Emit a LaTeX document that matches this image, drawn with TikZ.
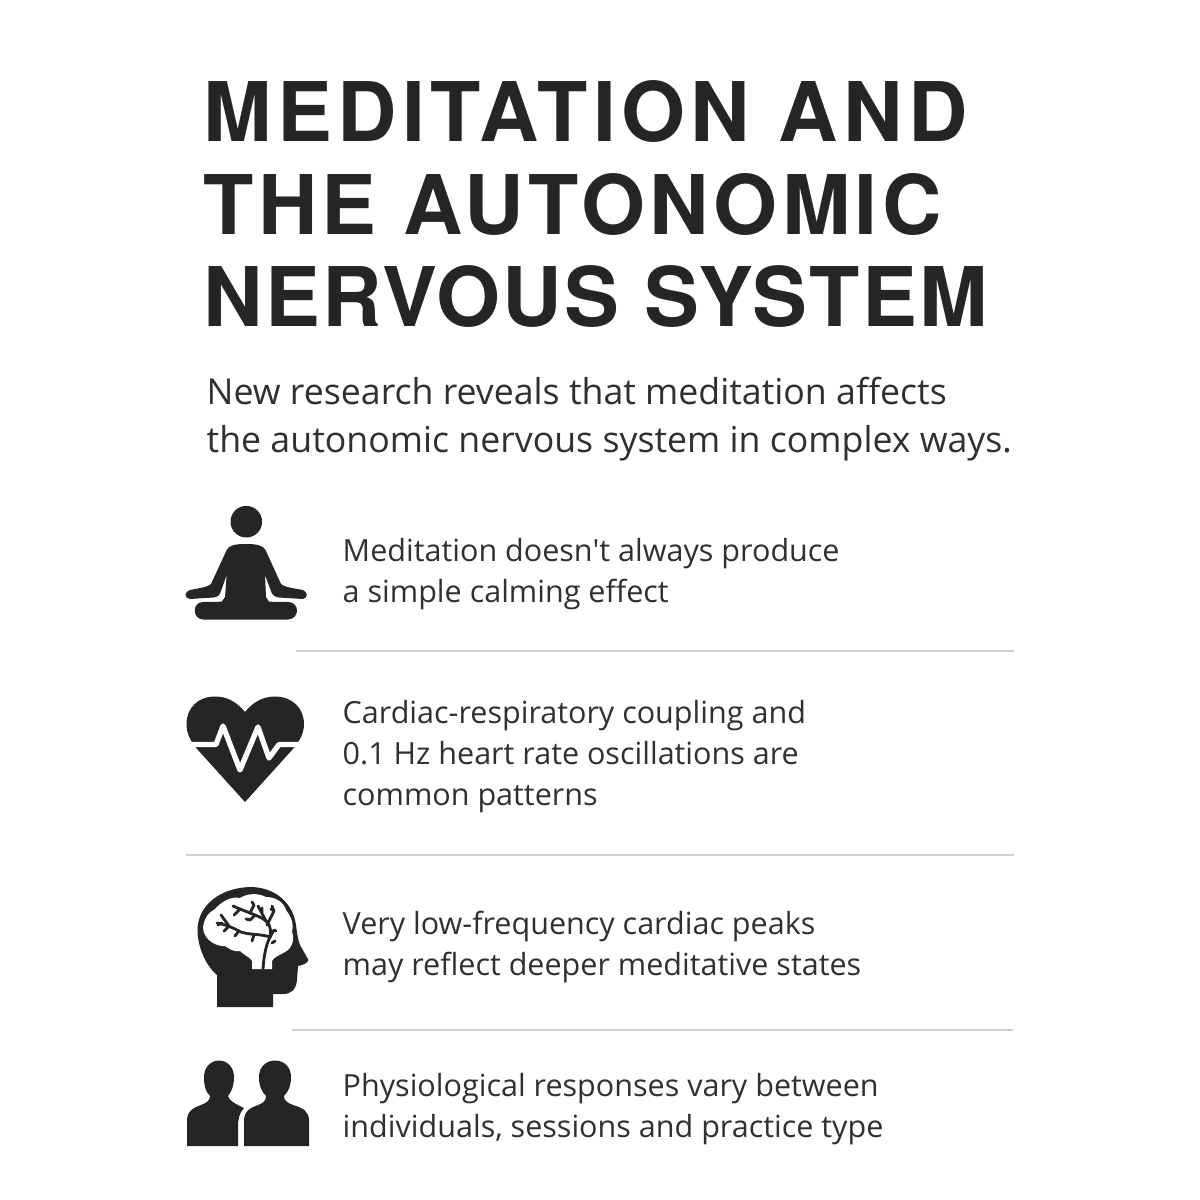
\documentclass[tikz,border=0pt]{standalone}
\usepackage{fontspec}
\setmainfont{Open Sans}
\newfontfamily\titlefont{TeX Gyre Heros}
\usepackage{tikz}
\definecolor{inkdark}{HTML}{252528}
\definecolor{rulegray}{HTML}{D0D0D0}
\tikzset{
  titletext/.style={anchor=north west, inner sep=0pt, align=left, text=inkdark, font=\titlefont\bfseries\fontsize{23.4}{26.3}\selectfont},
  subtext/.style={anchor=north west, inner sep=0pt, align=left, text=inkdark!95, font=\fontsize{10.15}{13.66}\selectfont},
  itemtext/.style={anchor=north west, inner sep=0pt, align=left, text=inkdark!95, font=\fontsize{8.68}{11.67}\selectfont},
  icon/.style={fill=inkdark, draw=none},
  sepline/.style={draw=rulegray, line width=0.3pt},
  cutline/.style={draw=white, line width=1.5pt, line join=round},
  twig/.style={draw=inkdark, line width=0.8pt, line cap=round, line join=round}
}
\begin{document}
\begin{tikzpicture}[x=0.01cm, y=-0.01cm]
\useasboundingbox (0,0) rectangle (1200,1200);
% heading
\node[titletext] (title) at (203,80) {\addfontfeature{LetterSpace=6.5}MEDITATION AND\\\addfontfeature{LetterSpace=5.1}THE AUTONOMIC\\\addfontfeature{LetterSpace=2.8}NERVOUS SYSTEM};
\node[subtext] (intro) at (206,376) {New research reveals that meditation affects\\the autonomic nervous system in complex ways.};
% four rows of text
\node[itemtext] (calm) at (342,538) {Meditation doesn\textquotesingle t always produce\\a simple calming effect};
\node[itemtext] (cardiac) at (342,700) {Cardiac-respiratory coupling and\\0.1 Hz heart rate oscillations are\\common patterns};
\node[itemtext] (peaks) at (342,910) {Very low-frequency cardiac peaks\\may reflect deeper meditative states};
\node[itemtext] (people) at (342,1073) {Physiological responses vary between\\individuals, sessions and practice type};
% separators
\draw[sepline] (296,651) -- (1014,651);
\draw[sepline] (186,855) -- (1014,855);
\draw[sepline] (292,1030) -- (1013,1030);
% sitting figure
\fill[icon] (246.3,521.7) circle (15.8);
\fill[icon] (246,544) .. controls (236,544) and (229,545) .. (226.7,550)
  -- (211,584) .. controls (208,587) and (200,588) .. (190,590)
  .. controls (184,592) and (184,598) .. (190,599)
  -- (213,597.5) .. controls (218,597) and (220,595) .. (221,591)
  -- (226.7,575) -- (225,597) -- (221.7,601.7) -- (203,602)
  .. controls (192,602) and (192,619) .. (203,619.5)
  -- (288,619.5) .. controls (300,619) and (300,602) .. (288,602)
  -- (269,601.7) -- (266,597) -- (265,575) -- (271,591)
  .. controls (272,595) and (275,597) .. (279,597.5)
  -- (303,599) .. controls (308,598) and (308,592) .. (303,590)
  .. controls (292,588) and (284,587) .. (281,584)
  -- (265.5,550) .. controls (263,545) and (256,544) .. (246,544) -- cycle;
% heart
\fill[icon] (245,712) .. controls (236,701) and (226,696.5) .. (215,696.5)
  .. controls (198,696.5) and (186.5,708) .. (186.5,724)
  .. controls (186.5,734) and (191,742) .. (198,750)
  -- (245,802) -- (292,750)
  .. controls (299,742) and (304,734) .. (304,724)
  .. controls (304,708) and (292,696.5) .. (275,696.5)
  .. controls (264,696.5) and (254,701) .. (245,712) -- cycle;
\draw[cutline] (184,744.5) -- (216,744.5) -- (223,726) -- (240,770) -- (258,727) -- (269,758) -- (279,744.5) -- (306,744.5);
% head with brain
\fill[icon] (217,1007) -- (217,975) .. controls (205,965) and (197,945) .. (197.5,928)
  .. controls (199,905) and (220,888) .. (250,887)
  .. controls (275,887) and (293,903) .. (296,925)
  .. controls (297,933) and (298,940) .. (300,945)
  -- (308.5,960) .. controls (307,964) and (302,965) .. (298,966)
  -- (297,980) .. controls (296,990) and (291,994) .. (283,994)
  -- (273,994) -- (273,1007) -- cycle;
\fill[white] (203,928) .. controls (204,918) and (209,912) .. (215,909)
  .. controls (222,901) and (232,896) .. (240,898)
  .. controls (248,893) and (258,893) .. (266,897)
  .. controls (275,897) and (284,902) .. (286,910)
  .. controls (292,918) and (294,925) .. (292,932)
  .. controls (295,940) and (292,948) .. (285,952)
  .. controls (278,956) and (274,957) .. (272,961)
  -- (272,969) -- (252,969) -- (252,961)
  .. controls (250,957) and (245,956) .. (240,951)
  .. controls (234,952) and (229,949) .. (225,946)
  .. controls (218,947) and (204,941) .. (203,928) -- cycle;
\draw[twig] (263,969) .. controls (264,955) and (266,945) .. (270,937)
  .. controls (272,925) and (268,920) .. (255,915) -- (240,909);
\draw[twig] (270,937) .. controls (262,934) and (250,935) .. (241,932) .. controls (235,929) and (228,925) .. (217,923);
\draw[twig] (266,921) -- (258,906) (262,913) -- (262,908) (267,925) -- (274,911) -- (271,909);
\draw[twig] (274,911) -- (272,906) (270,937) -- (274,930) -- (276,931) (272,943) -- (275,941);
\draw[twig] (255,915) -- (250,920) -- (246,919) (240,909) -- (233,906) (240,909) -- (234,915) (250,913) -- (254,905) -- (252,902);
\draw[twig] (229,926) -- (224,931) (229,926) -- (221,915) (222,923) -- (218,925) (254,935) -- (252,941) (238,932) -- (235,936);
% two people
\fill[icon] (187,1146) -- (187,1121) .. controls (187,1111) and (193,1108) .. (201,1105)
  .. controls (206,1103) and (210,1101) .. (210,1096)
  .. controls (205,1091) and (204,1085) .. (204,1077)
  .. controls (204,1067) and (211,1060.5) .. (219,1060.5)
  .. controls (227,1060.5) and (234,1067) .. (234,1077)
  .. controls (234,1085) and (232,1091) .. (228,1096)
  .. controls (229,1101) and (236,1104) .. (244,1108)
  .. controls (239,1113) and (238,1120) .. (238,1127) -- (238,1146) -- cycle;
\fill[icon] (244,1146) -- (244,1121) .. controls (244,1111) and (250,1108) .. (258,1105)
  .. controls (263,1103) and (266,1101) .. (266,1096)
  .. controls (261,1091) and (259,1085) .. (259,1077)
  .. controls (259,1067) and (266,1060.5) .. (275,1060.5)
  .. controls (284,1060.5) and (291,1067) .. (291,1077)
  .. controls (291,1085) and (289,1091) .. (284,1096)
  .. controls (284,1101) and (288,1103) .. (293,1105)
  .. controls (303,1108) and (309,1111) .. (309,1121) -- (309,1146) -- cycle;
\end{tikzpicture}
\end{document}
